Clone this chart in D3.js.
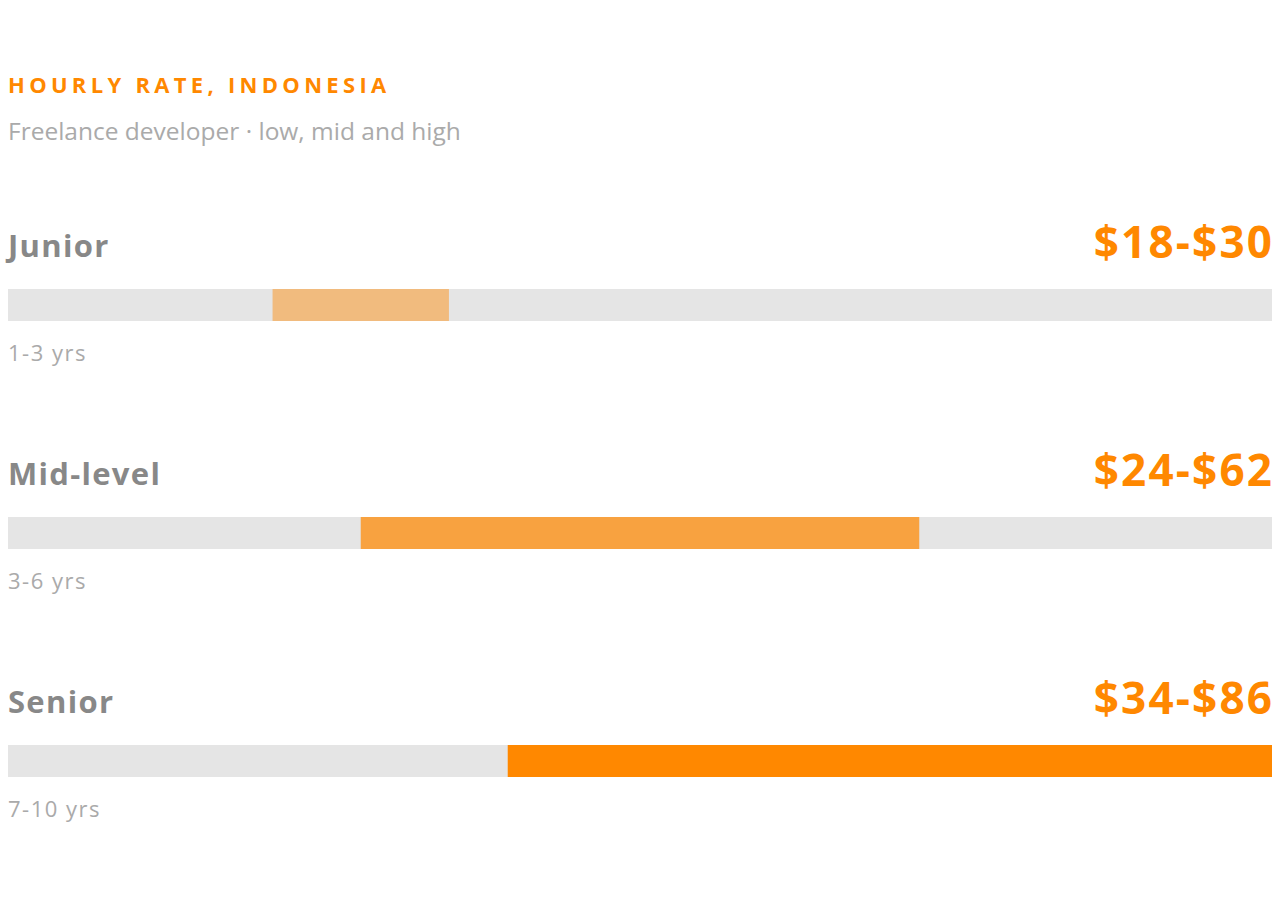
<!DOCTYPE html>
<html>
<head>
<meta charset="utf-8">
<script src="https://cdn.jsdelivr.net/npm/d3@7"></script>
<style>
  body { margin: 0; background: #fff; }
  svg { display: block; font-family: "Open Sans", "Noto Sans", sans-serif; }
</style>
</head>
<body>
<div id="chart"></div>
<script>
// data
const levels = ['Junior', 'Mid-level', 'Senior'];
const lowRates = [18, 24, 34];
const highRates = [30, 62, 86];
const experience = ['1-3 yrs', '3-6 yrs', '7-10 yrs'];
const barOpacity = [0.45, 0.72, 1];

const width = 1280;
const height = 920;
const orange = '#ff8800';

const rows = levels.map((d, i) => ({
  level: d, low: lowRates[i], high: highRates[i], yrs: experience[i], op: barOpacity[i]
}));

const svg = d3.select('#chart')
  .append('svg')
  .attr('width', width)
  .attr('height', height);

const x = d3.scaleLinear()
  .domain([0, d3.max(highRates)])
  .range([8, 1272]);

const y = d3.scaleBand()
  .domain(levels)
  .range([213, 897]);

// header
svg.append('text')
  .attr('x', 8).attr('y', 93)
  .attr('fill', orange)
  .attr('font-size', 22)
  .attr('font-weight', 700)
  .attr('letter-spacing', '4.3px')
  .text('HOURLY RATE, INDONESIA');

svg.append('text')
  .attr('x', 8).attr('y', 140)
  .attr('fill', '#aaaaaa')
  .attr('font-size', 24.5)
  .text('Freelance developer \u00b7 low, mid and high');

const row = svg.selectAll('.row')
  .data(rows)
  .enter()
  .append('g')
  .attr('class', 'row')
  .attr('transform', d => `translate(0,${y(d.level)})`);

row.append('text')
  .attr('x', 8).attr('y', 44)
  .attr('fill', '#888888')
  .attr('font-size', 31)
  .attr('font-weight', 700)
  .attr('letter-spacing', '1.3px')
  .text(d => d.level);

row.append('text')
  .attr('x', 1274.2).attr('y', 45)
  .attr('text-anchor', 'end')
  .attr('fill', orange)
  .attr('font-size', 44)
  .attr('font-weight', 700)
  .attr('letter-spacing', '2.2px')
  .text(d => `$${d.low}-$${d.high}`);

// track
row.append('rect')
  .attr('x', x(0))
  .attr('y', 76)
  .attr('width', x(d3.max(highRates)) - x(0))
  .attr('height', 32)
  .attr('fill', '#e5e5e5');

row.append('rect')
  .attr('x', d => x(d.low))
  .attr('y', 76)
  .attr('width', d => x(d.high) - x(d.low))
  .attr('height', 32)
  .attr('fill', orange)
  .attr('fill-opacity', d => d.op);

row.append('text')
  .attr('x', 8).attr('y', 148)
  .attr('fill', '#aaaaaa')
  .attr('font-size', 22)
  .attr('letter-spacing', '1.5px')
  .text(d => d.yrs);
</script>
</body>
</html>
